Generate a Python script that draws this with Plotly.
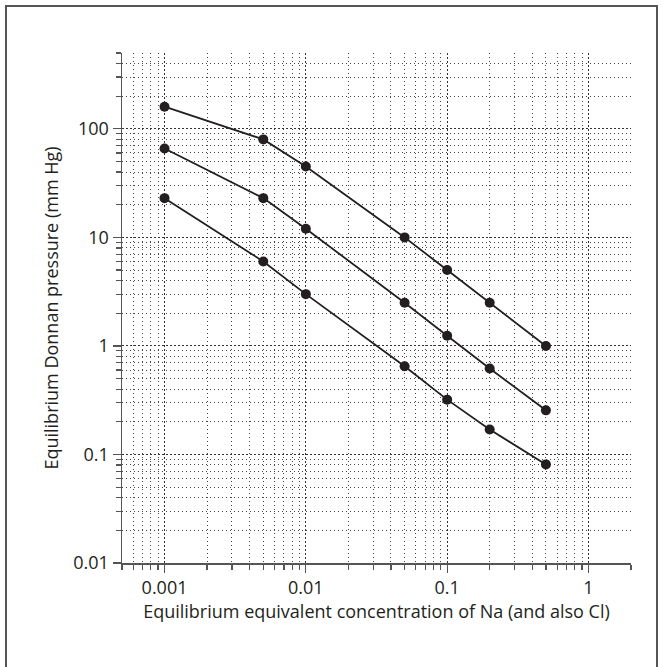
import plotly.graph_objects as go

# Data
concentration = [0.001, 0.005, 0.01, 0.05, 0.1, 0.2, 0.5]
pressure_high = [160, 80, 45, 10, 5.0, 2.5, 1.0]
pressure_mid = [66, 23, 12, 2.5, 1.24, 0.62, 0.255]
pressure_low = [23, 6.0, 3.0, 0.65, 0.32, 0.17, 0.081]

x_tick_vals = [0.001, 0.01, 0.1, 1]
x_tick_text = ["0.001", "0.01", "0.1", "1"]
y_tick_vals = [0.01, 0.1, 1, 10, 100]
y_tick_text = ["0.01", "0.1", "1", "10", "100"]

x_title = "Equilibrium equivalent concentration of Na (and also Cl)"
y_title = "Equilibrium Donnan pressure (mm Hg)"

W, H = 663, 667
L, R, T, B = 122, 32, 53, 104

FONT = "Open Sans"
FS = 18
INK = "#231f20"
AX = "#555555"

def minor_vals(lo_exp, hi_exp, lo, hi):
    vals = []
    for e in range(lo_exp, hi_exp + 1):
        for k in range(2, 10):
            v = k * 10.0 ** e
            if lo <= v <= hi:
                vals.append(v)
    return vals

x_minor = minor_vals(-4, 0, 0.0005, 2.0001)
y_minor = minor_vals(-2, 2, 0.01, 500.001)

fig = go.Figure()
for ys in (pressure_high, pressure_mid, pressure_low):
    fig.add_trace(go.Scatter(
        x=concentration, y=ys, mode="lines+markers",
        line=dict(color=INK, width=1.8),
        marker=dict(color=INK, size=10),
        showlegend=False, hoverinfo="skip",
    ))

grid_major = dict(showgrid=True, gridcolor="#333333", gridwidth=1, griddash="2px,2px")
axis_common = dict(
    type="log", showline=True, linecolor=AX, linewidth=1.5,
    ticks="outside", ticklen=8, tickwidth=1.2, tickcolor=AX,
    tickmode="array", zeroline=False,
    tickfont=dict(family=FONT, size=FS, color=INK),
    **grid_major,
)

fig.update_xaxes(
    range=[-3.30103, 0.30103],
    tickvals=x_tick_vals, ticktext=x_tick_text,
    title=dict(text=x_title, font=dict(family=FONT, size=FS, color=INK), standoff=2),
    minor=dict(tickmode="array", tickvals=x_minor, ticks="outside", ticklen=5,
               tickwidth=1.2, tickcolor=AX, showgrid=True, gridcolor="#444444",
               gridwidth=1, griddash="1px,3px"),
    **axis_common,
)
fig.update_yaxes(
    range=[-2, 2.69897],
    tickvals=y_tick_vals, ticktext=y_tick_text,
    title=dict(text=y_title, font=dict(family=FONT, size=FS, color=INK), standoff=10),
    minor=dict(tickmode="array", tickvals=y_minor, ticks="outside", ticklen=5,
               tickwidth=1.2, tickcolor=AX, showgrid=True, gridcolor="#444444",
               gridwidth=1, griddash="1px,3px"),
    **axis_common,
)

pw, ph = W - L - R, H - T - B
def px_x(p):
    return (p - L) / pw
def px_y(p):
    return (H - B - p) / ph

fig.add_shape(type="rect", xref="paper", yref="paper",
              x0=px_x(6), x1=px_x(657), y0=px_y(670), y1=px_y(6),
              line=dict(color="#555555", width=2), fillcolor="rgba(0,0,0,0)")

fig.update_layout(
    width=W, height=H,
    margin=dict(l=L, r=R, t=T, b=B),
    paper_bgcolor="white", plot_bgcolor="white",
    font=dict(family=FONT, color=INK),
)

fig.write_html("out.html", config={"displayModeBar": False, "staticPlot": True},
               post_script="document.body.style.margin='0px';")
